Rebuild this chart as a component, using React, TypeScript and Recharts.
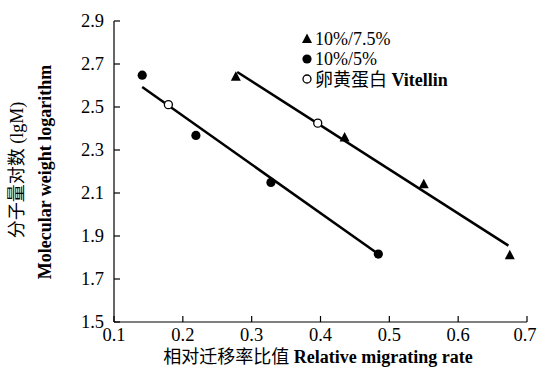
import React from "react"
import { ScatterChart, Scatter, XAxis, YAxis, ReferenceLine, Legend, Label } from "recharts"

const xTicks = [0.1, 0.2, 0.3, 0.4, 0.5, 0.6, 0.7]
const yTicks = [1.5, 1.7, 1.9, 2.1, 2.3, 2.5, 2.7, 2.9]

// 10%/7.5% gel
const gel75 = [
  { x: 0.277, y: 2.643 },
  { x: 0.435, y: 2.36 },
  { x: 0.55, y: 2.143 },
  { x: 0.675, y: 1.813 },
]
// 10%/5% gel
const gel5 = [
  { x: 0.141, y: 2.648 },
  { x: 0.219, y: 2.368 },
  { x: 0.328, y: 2.149 },
  { x: 0.484, y: 1.816 },
]
const vitellin = [
  { x: 0.179, y: 2.511 },
  { x: 0.396, y: 2.425 },
]
// fitted lines
const fit5 = [
  { x: 0.141, y: 2.593 },
  { x: 0.484, y: 1.816 },
]
const fit75 = [
  { x: 0.279, y: 2.663 },
  { x: 0.673, y: 1.855 },
]

const serif = "'Liberation Serif', 'Noto Sans CJK SC', serif"

const Triangle = ({ cx, cy }: any) => (
  <polygon points={`${cx - 5},${cy + 4.5} ${cx + 5},${cy + 4.5} ${cx},${cy - 5}`} fill="#000" />
)
const Dot = ({ cx, cy }: any) => <circle cx={cx} cy={cy} r={4.6} fill="#000" />
const OpenDot = ({ cx, cy }: any) => <circle cx={cx} cy={cy} r={4} fill="#fff" stroke="#000" strokeWidth={1.3} />

const XTick = ({ x, y, payload }: any) => {
  // last label sits flush against the right edge
  const last = payload.value === xTicks[xTicks.length - 1]
  return (
    <g>
      <line x1={x} y1={y} x2={x} y2={y - 6} stroke="#000" strokeWidth={1.2} />
      <text
        x={last ? x + 9.5 : x}
        y={y + 19}
        textAnchor={last ? "end" : "middle"}
        fontSize={18.5}
        fontFamily={serif}
        fill="#000"
      >
        {payload.value.toFixed(1)}
      </text>
    </g>
  )
}
const YTick = ({ x, y, payload }: any) => (
  <g>
    <line x1={x} y1={y} x2={x + 6} y2={y} stroke="#000" strokeWidth={1.2} />
    <text x={x - 10} y={y + 6} textAnchor="end" fontSize={18.5} fontFamily={serif} fill="#000">
      {payload.value.toFixed(1)}
    </text>
  </g>
)

const LegendBox = () => (
  <svg width={200} height={70} style={{ display: "block" }}>
    <g fontFamily={serif} fontSize={18} fill="#000">
      <Triangle cx={8} cy={13.5} />
      <text x={16} y={19.5}>10%/7.5%</text>
      <Dot cx={8} cy={34} />
      <text x={16} y={40}>10%/5%</text>
      <OpenDot cx={8} cy={54} />
      <text x={16} y={61}>
        卵黄蛋白 <tspan fontWeight="bold">Vitellin</tspan>
      </text>
    </g>
  </svg>
)

export default function App() {
  return (
    <div style={{ position: "absolute", left: 0, top: 0, width: 537, height: 368, background: "#fff" }}>
      <ScatterChart width={537} height={368} margin={{ top: 21, right: 10, bottom: 0, left: 0 }}>
        <XAxis
          type="number"
          dataKey="x"
          domain={[0.1, 0.7]}
          ticks={xTicks}
          height={46}
          tickSize={0}
          tickMargin={0}
          tick={<XTick />}
          axisLine={{ stroke: "#000", strokeWidth: 1.2 }}
          tickLine={false}
        >
          <Label
            content={() => (
              <text x={318} y={363} textAnchor="middle" fontSize={18} fontFamily={serif} fill="#000">
                相对迁移率比值 <tspan fontWeight="bold">Relative migrating rate</tspan>
              </text>
            )}
          />
        </XAxis>
        <YAxis
          type="number"
          dataKey="y"
          domain={[1.5, 2.9]}
          ticks={yTicks}
          width={114}
          tickSize={0}
          tickMargin={0}
          tick={<YTick />}
          axisLine={{ stroke: "#000", strokeWidth: 1.2 }}
          tickLine={false}
        >
          <Label
            content={() => (
              <g fontFamily={serif} fontSize={18} fill="#000">
                <text x={0} y={0} textAnchor="middle" transform="translate(23,170) rotate(-90)">
                  分子量对数 (lgM)
                </text>
                <text x={0} y={0} textAnchor="middle" fontWeight="bold" transform="translate(51,172) rotate(-90)">
                  Molecular weight logarithm
                </text>
              </g>
            )}
          />
        </YAxis>
        <ReferenceLine segment={fit5} stroke="#000" strokeWidth={2.5} ifOverflow="visible" />
        <ReferenceLine segment={fit75} stroke="#000" strokeWidth={2.5} ifOverflow="visible" />
        <Scatter name="10%/7.5%" data={gel75} shape={<Triangle />} isAnimationActive={false} />
        <Scatter name="10%/5%" data={gel5} shape={<Dot />} isAnimationActive={false} />
        <Scatter name="卵黄蛋白 Vitellin" data={vitellin} shape={<OpenDot />} isAnimationActive={false} />
        <Legend
          layout="vertical"
          align="center"
          verticalAlign="middle"
          wrapperStyle={{ left: 299, top: 25, width: 200 }}
          content={() => <LegendBox />}
        />
      </ScatterChart>
    </div>
  )
}
